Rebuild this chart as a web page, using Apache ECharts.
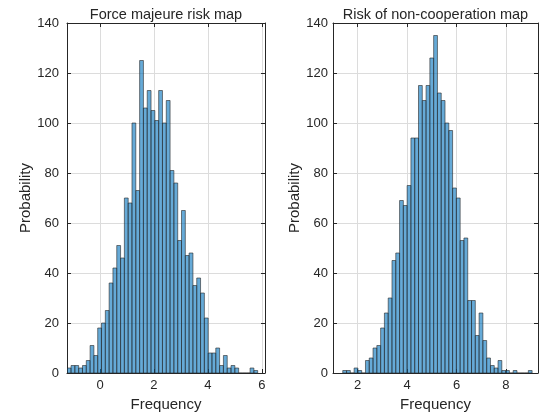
<!DOCTYPE html>
<html>
<head>
<meta charset="utf-8">
<script src="https://cdn.jsdelivr.net/npm/echarts@6/dist/echarts.min.js"></script>
<style>
  html, body { margin: 0; padding: 0; background: #fff; }
  #chart { width: 540px; height: 412px; }
</style>
</head>
<body>
<div id="chart"></div>
<script>
// two histograms, 50 bins each, 2000 samples
const titles = ['Force majeure risk map', 'Risk of non-cooperation map'];

// left: force majeure
const forceStart = -1.216;
const forceWidth = 0.1413;
const forceCounts = [2, 3, 3, 2, 3, 5, 11, 7, 18, 20,
  25, 36, 42, 51, 46, 70, 68, 100, 73, 125,
  106, 113, 105, 101, 113, 100, 109, 81, 76, 53,
  65, 47, 48, 35, 38, 32, 22, 8, 8, 10,
  3, 7, 2, 3, 2, 0, 0, 0, 2, 1];

// right: non-cooperation
const coopStart = 1.395;
const coopWidth = 0.15334;
const coopCounts = [1, 1, 0, 2, 1, 0, 5, 6, 10, 11,
  18, 24, 30, 45, 48, 69, 67, 75, 94, 94,
  115, 109, 115, 126, 135, 112, 109, 100, 97, 74,
  70, 53, 54, 29, 29, 15, 24, 13, 6, 3,
  2, 5, 1, 1, 0, 1, 0, 0, 0, 1];

const xLimits = [[-1.225, 6.12], [1.0, 9.3]];
const yMax = 140;

const ink = '#262626';
const font = 'Liberation Sans, Arial, Helvetica, sans-serif';

function toBins(start, width, counts) {
  return counts.map((c, i) => [start + i * width, start + (i + 1) * width, c]);
}

function renderBar(params, api) {
  const p0 = api.coord([api.value(0), api.value(2)]);
  const p1 = api.coord([api.value(1), 0]);
  return {
    type: 'rect',
    shape: { x: p0[0], y: p0[1], width: p1[0] - p0[0], height: p1[1] - p0[1] },
    style: { fill: 'rgba(0,114,189,0.6)', stroke: 'rgba(38,38,38,0.85)', lineWidth: 0.7 }
  };
}

const grids = [
  { left: 67, top: 23, width: 198, height: 350, outerBoundsMode: 'none' },
  { left: 333, top: 23, width: 205, height: 350, outerBoundsMode: 'none' }
];
const yNameGap = [34, 22];
const yLabelMargin = [8, 5];

let xAxes = [], yAxes = [], series = [];
grids.forEach((g, i) => {
  const lim = xLimits[i];
  // bottom x
  xAxes.push({
    type: 'value', gridIndex: i, position: 'bottom',
    min: lim[0], max: lim[1], splitNumber: 4, minInterval: 2, maxInterval: 2,
    name: 'Frequency', nameLocation: 'middle', nameGap: 22,
    nameTextStyle: { color: ink, fontSize: 15, fontFamily: font },
    axisLine: { onZero: false, lineStyle: { color: ink, width: 1 } },
    axisTick: { inside: true, length: 4, lineStyle: { color: ink } },
    axisLabel: { color: ink, fontSize: 13, fontFamily: font, margin: 6, showMinLabel: false, showMaxLabel: false },
    splitLine: { show: true, lineStyle: { color: '#dcdcdc', width: 1 } }
  });
  // top x (box + ticks, title as name)
  xAxes.push({
    type: 'value', gridIndex: i, position: 'top',
    min: lim[0], max: lim[1], splitNumber: 4, minInterval: 2, maxInterval: 2,
    name: titles[i], nameLocation: 'middle', nameGap: 1,
    nameTextStyle: { color: ink, fontSize: 14.5, fontFamily: font },
    axisLine: { onZero: false, lineStyle: { color: ink, width: 1 } },
    axisTick: { inside: true, length: 4, lineStyle: { color: ink } },
    axisLabel: { show: false },
    splitLine: { show: false }
  });
  yAxes.push({
    type: 'value', gridIndex: i, position: 'left',
    min: 0, max: yMax, interval: 20,
    name: 'Probability', nameLocation: 'middle', nameGap: yNameGap[i],
    nameTextStyle: { color: ink, fontSize: 15, fontFamily: font },
    axisLine: { show: true, onZero: false, lineStyle: { color: ink, width: 1 } },
    axisTick: { show: true, inside: true, length: 4, lineStyle: { color: ink } },
    axisLabel: { color: ink, fontSize: 13, fontFamily: font, margin: yLabelMargin[i] },
    splitLine: { show: true, lineStyle: { color: '#dcdcdc', width: 1 } }
  });
  yAxes.push({
    type: 'value', gridIndex: i, position: 'right',
    min: 0, max: yMax, interval: 20,
    axisLine: { show: true, onZero: false, lineStyle: { color: ink, width: 1 } },
    axisTick: { show: true, inside: true, length: 4, lineStyle: { color: ink } },
    axisLabel: { show: false },
    splitLine: { show: false }
  });
});

series.push({
  type: 'custom', xAxisIndex: 0, yAxisIndex: 0,
  data: toBins(forceStart, forceWidth, forceCounts),
  encode: { x: [0, 1], y: 2 }, renderItem: renderBar, clip: true
});
series.push({
  type: 'custom', xAxisIndex: 2, yAxisIndex: 2,
  data: toBins(coopStart, coopWidth, coopCounts),
  encode: { x: [0, 1], y: 2 }, renderItem: renderBar, clip: true
});

const chart = echarts.init(document.getElementById('chart'), null, { renderer: 'canvas' });
chart.setOption({
  animation: false,
  backgroundColor: '#fff',
  grid: grids,
  xAxis: xAxes,
  yAxis: yAxes,
  series: series
});
</script>
</body>
</html>
